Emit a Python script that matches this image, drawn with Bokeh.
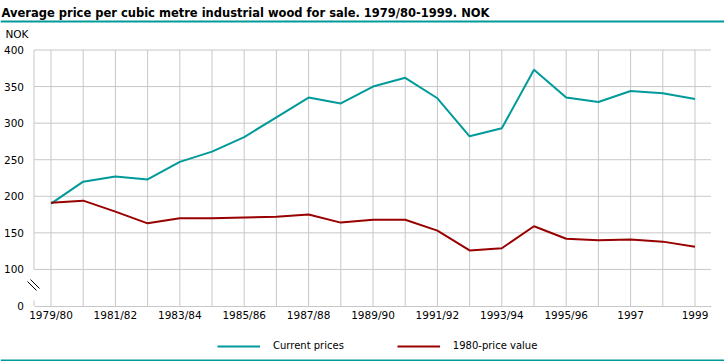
from bokeh.plotting import figure
from bokeh.models import (Range1d, FixedTicker, Label, BoxAnnotation,
                          Legend, LegendItem, ColumnDataSource)
from bokeh.embed import file_html
from bokeh.resources import INLINE

# ---- data ----
periods = ["1979/80", "1980/81", "1981/82", "1982/83", "1983/84", "1984/85", "1985/86",
           "1986/87", "1987/88", "1988/89", "1989/90", "1990/91", "1991/92", "1992/93",
           "1993/94", "1994/95", "1995/96", "1996", "1997", "1998", "1999"]
current_prices = [190, 220, 227, 223, 247, 261, 281, 308, 335, 327, 350, 362, 334, 282,
                  293, 373, 335, 329, 344, 341, 333]
price_1980_value = [191, 194, 179, 163, 170, 170, 171, 172, 175, 164, 168, 168, 153, 126,
                    129, 159, 142, 140, 141, 138, 131]
series_names = ["Current prices", "1980-price value"]
y_tick_values = [50, 100, 150, 200, 250, 300, 350, 400]
y_tick_labels = ["0", "100", "150", "200", "250", "300", "350", "400"]
x_tick_every = 2
title_text = "Average price per cubic metre industrial wood for sale. 1979/80-1999. NOK"
unit_text = "NOK"

TEAL = "#009a9a"
RED = "#990000"
GRID = "#c8c8c8"
TICK_FONT = "DejaVu Sans"

W, H = 724, 361
# layout constants (pixels inside the canvas)
X0_PX, X_STEP = 50.5, 32.2           # first category centre, spacing
Y400_PX, Y_SCALE = 49.5, 256 / 350   # pixel of value 400, px per unit
AXIS_PX, RIGHT_PX = 33.5, 710.5      # y-axis position, right end of the plot area
x_start = -X0_PX / X_STEP
x_end = x_start + W / X_STEP
y_end = 400 + Y400_PX / Y_SCALE
y_start = y_end - H / Y_SCALE


def xd(px):
    return (px - X0_PX) / X_STEP


def yd(py):
    return y_end - py / Y_SCALE


axis_x = xd(AXIS_PX)
plot_right = xd(RIGHT_PX)

idx = list(range(len(periods)))
src = ColumnDataSource(dict(x=idx, period=periods, cur=current_prices, real=price_1980_value))

p = figure(width=W, height=H, output_backend="svg", toolbar_location=None,
           x_range=Range1d(x_start, x_end), y_range=Range1d(y_start, y_end),
           min_border=0, min_border_left=0, min_border_right=0,
           min_border_top=0, min_border_bottom=0)
p.outline_line_color = None
p.background_fill_color = "white"
p.border_fill_color = "white"
p.xgrid.visible = False
p.ygrid.visible = False

# grid lines (from the tick arrays)
grid_x = idx
p.segment(x0=grid_x, y0=[y_tick_values[0]] * len(grid_x), x1=grid_x,
          y1=[y_tick_values[-1]] * len(grid_x), line_color=GRID, line_width=1)
grid_y = y_tick_values[1:]
p.segment(x0=[axis_x] * len(grid_y), y0=grid_y, x1=[plot_right] * len(grid_y), y1=grid_y,
          line_color=GRID, line_width=1)

# broken y-axis line
p.segment(x0=[axis_x, axis_x], y0=[y_tick_values[-1], yd(300)],
          x1=[axis_x, axis_x], y1=[y_tick_values[1], y_tick_values[0]],
          line_color=GRID, line_width=1)
# break marks "\\"
p.segment(x0=[xd(27), xd(30)], y0=[yd(281), yd(279)], x1=[xd(36), xd(39)],
          y1=[yd(290), yd(288)], line_color="#000000", line_width=1)

# axes, drawn inside the canvas-wide frame
xa = p.xaxis[0]
xa.fixed_location = y_tick_values[0]
xa.bounds = (axis_x, plot_right)
xa.ticker = FixedTicker(ticks=idx[::x_tick_every])
xa.major_label_overrides = {i: periods[i] for i in idx[::x_tick_every]}
xa.axis_line_color = GRID
xa.major_tick_line_color = None
xa.major_tick_out = 0
xa.major_tick_in = 0
xa.minor_tick_line_color = None
xa.major_label_standoff = 3
xa.major_label_text_font = TICK_FONT
xa.major_label_text_font_size = "10.5px"
xa.major_label_text_color = "#000000"

ya = p.yaxis[0]
ya.fixed_location = axis_x
ya.bounds = (y_tick_values[0], y_tick_values[-1])
ya.ticker = FixedTicker(ticks=y_tick_values)
ya.major_label_overrides = {v: t for v, t in zip(y_tick_values, y_tick_labels)}
ya.axis_line_color = None
ya.major_tick_line_color = None
ya.major_tick_out = 0
ya.major_tick_in = 0
ya.minor_tick_line_color = None
ya.major_label_standoff = 10
ya.major_label_text_font = TICK_FONT
ya.major_label_text_font_size = "10.5px"
ya.major_label_text_color = "#000000"

# lines
r1 = p.line("x", "cur", source=src, line_color=TEAL, line_width=2)
r2 = p.line("x", "real", source=src, line_color=RED, line_width=2)

# title, unit, rules
p.add_layout(Label(x=1, y=H - 12.5, x_units="screen", y_units="screen", text=title_text,
                   text_font="DejaVu Sans", text_font_style="bold", text_font_size="11.5px",
                   text_baseline="alphabetic", text_color="#000000"))
p.add_layout(BoxAnnotation(left=0, right=W, top=H - 20, bottom=H - 22, left_units="screen",
                           right_units="screen", top_units="screen", bottom_units="screen",
                           fill_color=TEAL, fill_alpha=1, line_color=None))
p.add_layout(Label(x=5, y=H - 33.5, x_units="screen", y_units="screen", text=unit_text,
                   text_font=TICK_FONT, text_font_size="10.5px", text_baseline="middle",
                   text_color="#000000"))
p.add_layout(BoxAnnotation(left=0, right=W, top=2, bottom=0, left_units="screen",
                           right_units="screen", top_units="screen", bottom_units="screen",
                           fill_color=TEAL, fill_alpha=1, line_color=None))

legend = Legend(items=[LegendItem(label=series_names[0], renderers=[r1]),
                       LegendItem(label=series_names[1], renderers=[r2])],
                orientation="horizontal", location=(217, 8.5),
                glyph_width=43, glyph_height=14, label_standoff=13, spacing=53,
                padding=0, margin=0, border_line_color=None, background_fill_alpha=0,
                label_text_font=TICK_FONT, label_text_font_size="10px",
                label_text_color="#000000")
p.add_layout(legend, "center")

open("out.html", "w").write(file_html(p, INLINE))
